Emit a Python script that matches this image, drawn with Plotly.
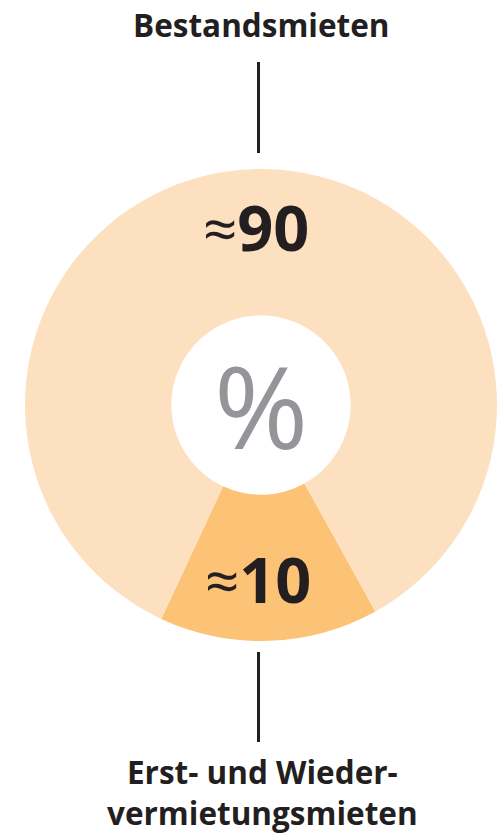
import plotly.graph_objects as go

# Data
categories = ["Erst- und Wiedervermietungsmieten", "Bestandsmieten"]
values = [15, 85]  # visual share as drawn
value_labels = ["≈10", "≈90"]
colors = ["#FCC276", "#FDE0BF"]

W, H = 501, 836
cx, cy, R = 261, 405, 236

fig = go.Figure()
fig.add_trace(go.Pie(
    labels=categories, values=values, sort=False, direction="clockwise",
    rotation=151, hole=0.38, textinfo="none", hoverinfo="label+percent",
    marker=dict(colors=colors, line=dict(width=0)),
    domain=dict(x=[(cx - R) / W, (cx + R) / W], y=[(H - cy - R) / H, (H - cy + R) / H]),
    showlegend=False,
))

font_fam = "Open Sans"
txt_col = "#231F20"

def px(x, y):
    return dict(x=x / W, y=1 - y / H, xref="paper", yref="paper")

ann = []
label_pos = [(258, 578), (256, 226)]
for lab, (x, y) in zip(value_labels, label_pos):
    ann.append(dict(**px(x, y), text="<span style='font-weight:normal;font-size:60px'>" + lab[0] + "</span><b>" + lab[1:] + "</b>",
                    showarrow=False, font=dict(family=font_fam, size=63, color=txt_col), xanchor="center", yanchor="middle"))
ann.append(dict(**px(261, 404), text="%", showarrow=False,
                font=dict(family=font_fam, size=114, color="#939598"), xanchor="center", yanchor="middle"))
ann.append(dict(**px(261, 24), text="<b>Bestandsmieten</b>", showarrow=False,
                font=dict(family=font_fam, size=31.5, color=txt_col), xanchor="center", yanchor="middle"))
ann.append(dict(**px(262, 792), text="<b>Erst- und Wieder-<br>vermietungsmieten</b>", showarrow=False,
                font=dict(family=font_fam, size=31.5, color=txt_col), xanchor="center", yanchor="middle"))

shapes = [
    dict(type="line", xref="paper", yref="paper", x0=258.5 / W, x1=258.5 / W, y0=1 - 62 / H, y1=1 - 153 / H,
         line=dict(color=txt_col, width=3)),
    dict(type="line", xref="paper", yref="paper", x0=258.5 / W, x1=258.5 / W, y0=1 - 652 / H, y1=1 - 742 / H,
         line=dict(color=txt_col, width=3)),
]

fig.update_layout(width=W, height=H, margin=dict(l=0, r=0, t=0, b=0),
                  paper_bgcolor="white", plot_bgcolor="white",
                  annotations=ann, shapes=shapes)
fig.write_html("out.html", config={"displayModeBar": False},
               post_script="document.body.style.margin='0';document.body.style.overflow='hidden';")
